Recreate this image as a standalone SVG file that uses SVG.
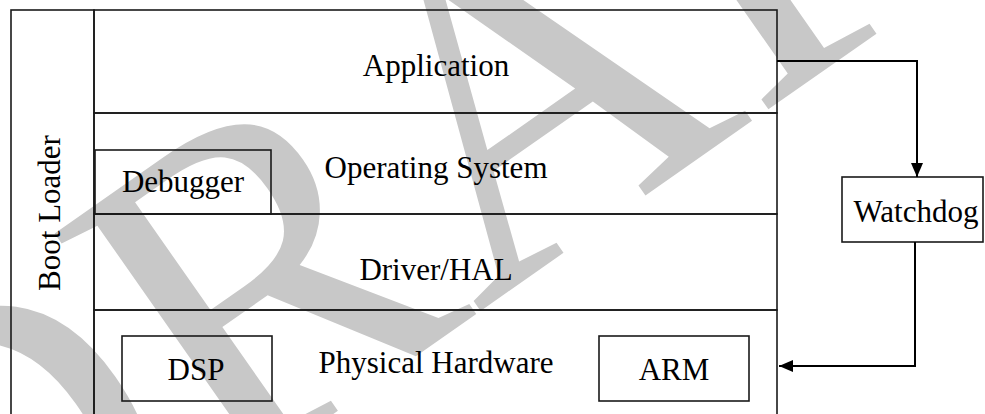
<svg xmlns="http://www.w3.org/2000/svg" width="985" height="414" viewBox="0 0 985 414">
<defs>
<style>
.box{fill:none;stroke:#1a1a1a;stroke-width:1.6}
.lbl{font-size:31px;fill:#000;text-anchor:middle}
.wire{fill:none;stroke:#000;stroke-width:2}
.wm{font-size:470px;fill:#c8c8c8}
</style>
<marker id="ah" viewBox="0 0 14 12" refX="14" refY="6" markerWidth="14" markerHeight="12" markerUnits="userSpaceOnUse" orient="auto">
<path d="M0,0 L14,6 L0,12 Z" fill="#000"/>
</marker>
</defs>
<rect width="985" height="414" fill="#fff"/>
<g id="watermark">
<text class="wm" font-family="Liberation Serif, serif" x="0" y="0" transform="translate(-58,688) rotate(-35)">DRAFT</text>
</g>
<g font-family="Liberation Serif, serif">
<g id="bootloader">
<rect class="box" x="11" y="10" width="83" height="420"/>
<text class="lbl" x="0" y="0" transform="translate(60,213) rotate(-90)">Boot Loader</text>
</g>
<g id="application">
<rect class="box" x="94" y="10" width="683" height="103"/>
<text class="lbl" x="436" y="76">Application</text>
</g>
<g id="os">
<rect class="box" x="94" y="113" width="683" height="101"/>
<text class="lbl" x="436" y="178">Operating System</text>
</g>
<g id="debugger">
<rect class="box" x="95" y="150" width="176" height="64"/>
<text class="lbl" x="183" y="192">Debugger</text>
</g>
<g id="driver">
<rect class="box" x="94" y="214" width="683" height="96"/>
<text class="lbl" x="436" y="280">Driver/HAL</text>
</g>
<g id="hardware">
<rect class="box" x="94" y="310" width="683" height="120"/>
<text class="lbl" x="436" y="373">Physical Hardware</text>
</g>
<g id="dsp">
<rect class="box" x="122" y="336" width="150" height="65"/>
<text class="lbl" x="196" y="380">DSP</text>
</g>
<g id="arm">
<rect class="box" x="599" y="336" width="150" height="65"/>
<text class="lbl" x="674" y="380">ARM</text>
</g>
<g id="watchdog">
<rect class="box" x="842" y="177" width="141" height="65"/>
<text class="lbl" x="916" y="222">Watchdog</text>
</g>
</g>
<g id="connectors">
<path class="wire" d="M777,61 H917 V177" marker-end="url(#ah)"/>
<path class="wire" d="M915,242 V366 H779" marker-end="url(#ah)"/>
</g>
</svg>
